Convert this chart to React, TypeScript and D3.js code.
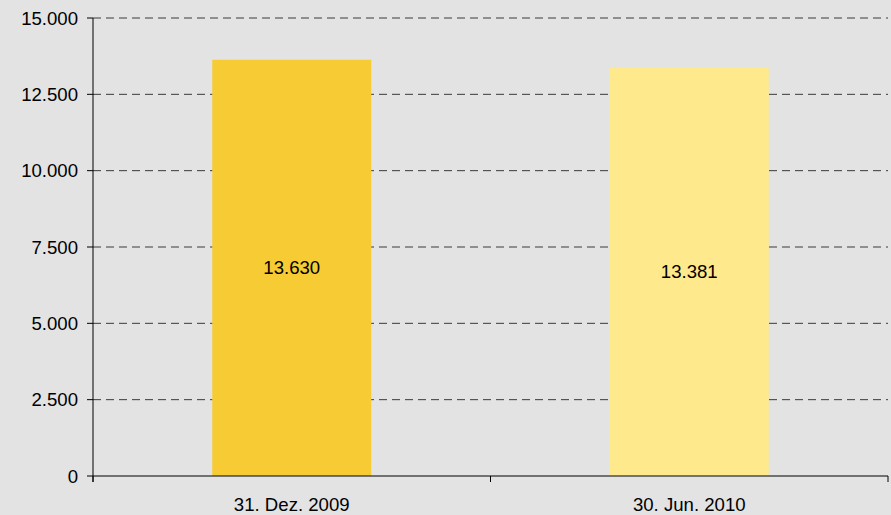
import React, { useEffect } from "react";
import * as d3 from "d3";

const categories = ["31. Dez. 2009", "30. Jun. 2010"];
const values = [13630, 13381];
const barColors = ["#f7cb33", "#feea8c"];
const yTicks = [0, 2500, 5000, 7500, 10000, 12500, 15000];

const W = 891;
const H = 515;
const M = { left: 93, right: 3, top: 18, bottom: 39 };
const FS = 18.6;

const fmt = (v: number) => d3.format(",")(v).replace(/,/g, ".");

export default function App() {
  useEffect(() => {
    document.body.style.margin = "0";
  }, []);
  const x = d3
    .scaleBand<string>()
    .domain(categories)
    .range([M.left, W - M.right])
    .paddingInner(0)
    .paddingOuter(0);
  const y = d3.scaleLinear().domain([0, 15000]).range([H - M.bottom, M.top]);
  const bw = x.bandwidth() * 0.4;
  const font = "'Liberation Sans', Arial, sans-serif";
  const boundaries = [...categories.map((c) => x(c)!), W - M.right];

  return (
    <svg width={W} height={H} style={{ display: "block" }} fontFamily={font}>
      <rect x={0} y={0} width={W} height={H} fill="#e3e3e3" />
      {yTicks
        .filter((t) => t > 0)
        .map((t) => (
          <line
            key={t}
            x1={M.left}
            x2={W - M.right}
            y1={y(t)}
            y2={y(t)}
            stroke="#3a3a3a"
            strokeWidth={1}
            strokeDasharray="8,5"
          />
        ))}
      {categories.map((c, i) => {
        const cx = x(c)! + x.bandwidth() / 2;
        const top = y(values[i]);
        const bot = y(0);
        return (
          <g key={c}>
            <rect x={cx - bw / 2} y={top} width={bw} height={bot - top} fill={barColors[i]} />
            <text
              x={cx}
              y={(top + bot) / 2}
              textAnchor="middle"
              dominantBaseline="central"
              fontSize={FS}
              fill="#000"
            >
              {fmt(values[i])}
            </text>
            <text x={cx} y={H - 4.5} textAnchor="middle" fontSize={FS} fill="#000">
              {c}
            </text>
          </g>
        );
      })}
      <line x1={M.left} x2={M.left} y1={M.top} y2={y(0) + 6} stroke="#000" />
      <line x1={M.left} x2={W - M.right} y1={y(0)} y2={y(0)} stroke="#000" />
      {yTicks.map((t) => (
        <g key={t}>
          <line x1={M.left - 6} x2={M.left} y1={y(t)} y2={y(t)} stroke="#000" />
          <text
            x={M.left - 15}
            y={y(t)}
            textAnchor="end"
            dominantBaseline="central"
            fontSize={FS}
            fill="#000"
          >
            {fmt(t)}
          </text>
        </g>
      ))}
      {boundaries.map((b, i) => (
        <line key={i} x1={b} x2={b} y1={y(0)} y2={y(0) + 6} stroke="#000" />
      ))}
    </svg>
  );
}
